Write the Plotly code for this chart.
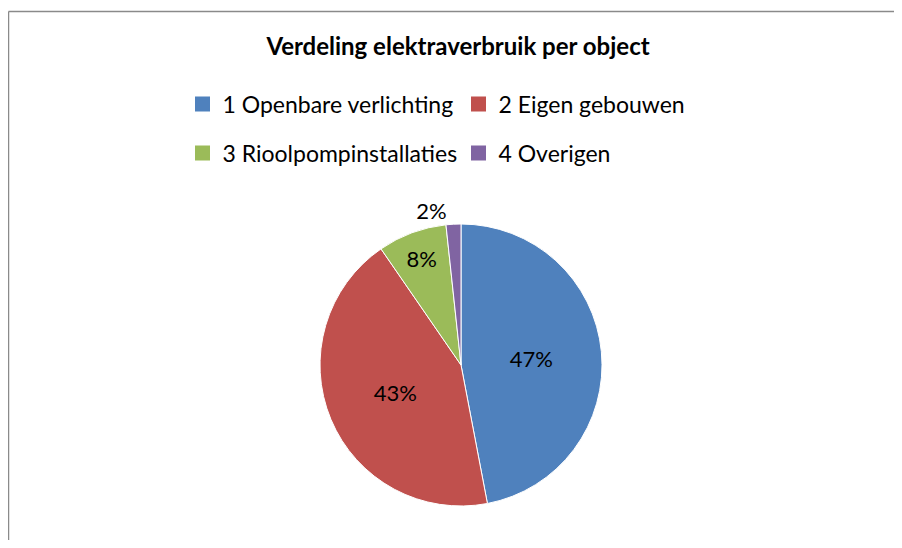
import plotly.graph_objects as go

# data
labels = ["1 Openbare verlichting", "2 Eigen gebouwen",
          "3 Rioolpompinstallaties", "4 Overigen"]
values = [47.0, 43.4, 7.9, 1.7]
colors = ["#4F81BD", "#C0504D", "#9BBB59", "#8064A2"]
legend_of = ["legend", "legend", "legend2", "legend2"]

# the page body has an 8px margin on every side, keep the figure inside the window
OFF = 8
W, H = 902 - 2 * OFF, 548 - 2 * OFF
FONT = "Lato"

def px_x(p):
    return (p - OFF) / W

def px_y(p):
    return 1 - (p - OFF) / H

pie = go.Pie(
    labels=labels,
    values=values,
    sort=False,
    direction="clockwise",
    rotation=0,
    marker=dict(colors=colors, line=dict(color="white", width=1)),
    texttemplate="%{percent:.0%}",
    textposition=["inside", "inside", "inside", "outside"],
    insidetextorientation="horizontal",
    textfont=dict(family=FONT, size=22, color="black"),
    domain=dict(x=[px_x(319.5), px_x(602.5)], y=[px_y(506), px_y(224)]),
    showlegend=False,
    hoverinfo="label+percent",
)

traces = [pie]
# legend entries (two rows, like the original)
for lab, col, lg in zip(labels, colors, legend_of):
    traces.append(go.Scatter(
        x=[None], y=[None], mode="markers", name=lab, legend=lg,
        marker=dict(symbol="square", size=15, color=col),
    ))

fig = go.Figure(traces)

leg_common = dict(
    orientation="h", xanchor="left", yanchor="middle",
    entrywidth=231, entrywidthmode="pixels",
    font=dict(family=FONT, size=23, color="black"),
    bgcolor="rgba(0,0,0,0)", itemclick=False,
)

frame = dict(color="#8a8a8a", width=1.5)

fig.update_layout(
    width=W, height=H,
    margin=dict(l=0, r=0, t=0, b=0),
    paper_bgcolor="white", plot_bgcolor="white",
    font=dict(family=FONT, color="black"),
    title=dict(text="<b>Verdeling elektraverbruik per object</b>",
               x=px_x(458), xanchor="center", y=px_y(47), yanchor="middle",
               font=dict(family=FONT, size=24, color="black")),
    xaxis=dict(visible=False, showline=False, zeroline=False, showgrid=False),
    yaxis=dict(visible=False, showline=False, zeroline=False, showgrid=False),
    legend=dict(x=px_x(182.5), y=px_y(104), **leg_common),
    legend2=dict(x=px_x(182.5), y=px_y(153), **leg_common),
    shapes=[
        # chart frame: left and top edge (the rest lies outside the crop)
        dict(type="line", xref="paper", yref="paper",
             x0=px_x(8.5), x1=px_x(8.5), y0=0, y1=px_y(11.5),
             line=frame, layer="above"),
        dict(type="line", xref="paper", yref="paper",
             x0=px_x(8.5), x1=px_x(901), y0=px_y(11.5), y1=px_y(11.5),
             line=frame, layer="above"),
    ],
)

fig.write_html("out.html")
